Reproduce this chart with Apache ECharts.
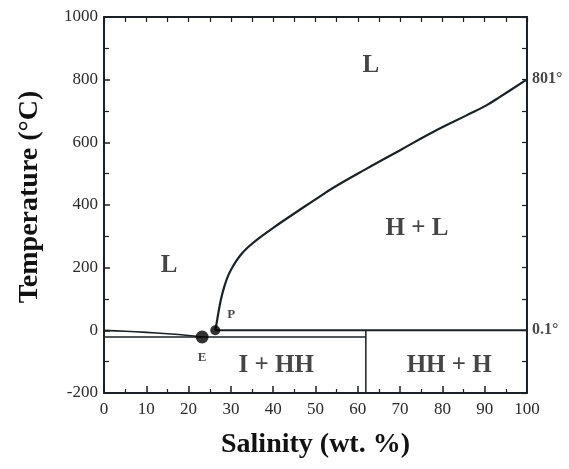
<!DOCTYPE html>
<html>
<head>
<meta charset="utf-8">
<script src="https://cdn.jsdelivr.net/npm/echarts@6/dist/echarts.min.js"></script>
<style>
  html, body { margin: 0; padding: 0; background: #fff; }
  #chart { width: 569px; height: 469px; }
</style>
</head>
<body>
<div id="chart"></div>
<script>
// Halite liquidus, from the peritectic P up to the NaCl melting point
const liquidusSalinity = [26.3, 26.6, 27.0, 27.6, 28.4, 29.4, 30.6, 32.2, 34.1, 36.5, 40.0, 44.0, 50.0, 54.2, 62.1, 70.0, 77.8, 85.7, 90.4, 93.6, 100];
const liquidusTemp = [0.1, 21, 53, 96, 138, 176, 207, 239, 266, 293, 327, 364, 418, 455, 516, 575, 633, 686, 718, 745, 801];

// Ice liquidus, from pure water to the eutectic E
const iceSalinity = [0, 5, 10, 15, 20, 23.2];
const iceTemp = [0, -3, -6.6, -11, -16.5, -21.2];

// Invariant points
const pointNames = ["E", "P"];
const pointSalinity = [23.2, 26.3];
const pointTemp = [-21.2, 0.1];

const eutecticTemp = -21.2;
const peritecticTemp = 0.1;
const hydrateSalinity = 61.9;
const meltTemp = 801;

// Phase field labels
const fieldNames = ["L", "L", "H + L", "I + HH", "HH + H"];
const fieldSalinity = [15.4, 63.1, 74, 40.7, 81.6];
const fieldTemp = [207, 846, 326, -112, -112];

const xTicks = [0, 10, 20, 30, 40, 50, 60, 70, 80, 90, 100];
const yTicks = [-200, 0, 200, 400, 600, 800, 1000];

const ink = "#1b2124";
const serif = "Liberation Serif";

const chart = echarts.init(document.getElementById("chart"));

const zip = (xs, ys) => xs.map((x, i) => [x, ys[i]]);

const lineStyle = (w) => ({ color: ink, width: w });

const frameLine = { show: true, onZero: false, lineStyle: { color: ink, width: 2 } };

const option = {
  animation: false,
  grid: { left: 104, right: 42, top: 17, bottom: 76 },
  xAxis: [
    {
      type: "value",
      position: "bottom",
      min: xTicks[0],
      max: xTicks[xTicks.length - 1],
      interval: 10,
      name: "Salinity (wt. %)",
      nameLocation: "middle",
      nameGap: 38,
      nameTextStyle: { fontFamily: serif, fontWeight: "bold", fontSize: 28, color: "#111" },
      axisLine: frameLine,
      axisTick: { show: true, inside: true, length: 7, lineStyle: { color: ink, width: 1.5 } },
      minorTick: { show: true, splitNumber: 2, length: 4, lineStyle: { color: ink, width: 1.2 } },
      axisLabel: { fontFamily: serif, fontSize: 17, color: "#2a2a2a", margin: 8, formatter: (v) => String(v) },
      splitLine: { show: false }
    },
    {
      type: "value",
      position: "top",
      min: 0,
      max: 100,
      interval: 5,
      axisLine: frameLine,
      axisTick: { show: true, inside: true, length: 5, lineStyle: { color: ink, width: 1.2 } },
      axisLabel: { show: false },
      splitLine: { show: false }
    }
  ],
  yAxis: [
    {
      type: "value",
      position: "left",
      min: yTicks[0],
      max: yTicks[yTicks.length - 1],
      interval: 200,
      name: "Temperature (°C)",
      nameLocation: "middle",
      nameRotate: 90,
      nameGap: 60,
      nameTextStyle: { fontFamily: serif, fontWeight: "bold", fontSize: 28, color: "#111", padding: [0, 0, 0, 16] },
      axisLine: frameLine,
      axisTick: { show: true, inside: true, length: 6, lineStyle: { color: ink, width: 1.5 } },
      minorTick: { show: true, splitNumber: 2, length: 5, lineStyle: { color: ink, width: 1.2 } },
      axisLabel: { fontFamily: serif, fontSize: 17, color: "#2a2a2a", margin: 6, formatter: (v) => String(v) },
      splitLine: { show: false }
    },
    {
      type: "value",
      position: "right",
      min: -200,
      max: 1000,
      interval: 100,
      axisLine: frameLine,
      axisTick: { show: true, inside: true, length: 5, lineStyle: { color: ink, width: 1.2 } },
      axisLabel: { show: false },
      splitLine: { show: false }
    }
  ],
  series: [
    {
      name: "liquidus",
      type: "line",
      smooth: 0.4,
      symbol: "none",
      data: zip(liquidusSalinity, liquidusTemp),
      lineStyle: lineStyle(2.2),
      z: 3
    },
    {
      name: "ice",
      type: "line",
      smooth: 0.3,
      symbol: "none",
      data: zip(iceSalinity, iceTemp),
      lineStyle: lineStyle(1.6)
    },
    {
      name: "eutectic",
      type: "line",
      symbol: "none",
      data: [[0, eutecticTemp], [hydrateSalinity, eutecticTemp]],
      lineStyle: lineStyle(1.6)
    },
    {
      name: "peritectic",
      type: "line",
      symbol: "none",
      data: [[pointSalinity[1], peritecticTemp], [100, peritecticTemp]],
      lineStyle: lineStyle(2)
    },
    {
      name: "hydrate",
      type: "line",
      symbol: "none",
      data: [[hydrateSalinity, peritecticTemp], [hydrateSalinity, -200]],
      lineStyle: lineStyle(1.5)
    },
    {
      name: "points",
      type: "scatter",
      data: pointNames.map((n, i) => ({
        name: n,
        value: [pointSalinity[i], pointTemp[i]],
        symbolSize: i === 0 ? 13 : 10,
        label: i === 0
          ? { position: "bottom", distance: 8 }
          : { position: "insideLeft", offset: [12, -16] }
      })),
      itemStyle: { color: "#000" },
      label: {
        show: true,
        formatter: "{b}",
        fontFamily: serif,
        fontWeight: "bold",
        fontSize: 13,
        color: "#1a1a1a"
      },
      z: 5
    },
    {
      name: "ends",
      type: "scatter",
      symbolSize: 0,
      data: [
        { value: [100, meltTemp], name: meltTemp + "°" },
        { value: [100, peritecticTemp], name: peritecticTemp + "°" }
      ],
      label: {
        show: true,
        position: "right",
        distance: 5,
        formatter: "{b}",
        fontFamily: serif,
        fontWeight: "bold",
        fontSize: 16,
        color: "#1a1a1a"
      }
    },
    {
      name: "fields",
      type: "scatter",
      symbolSize: 0,
      data: fieldNames.map((n, i) => ({ name: n, value: [fieldSalinity[i], fieldTemp[i]] })),
      label: {
        show: true,
        position: "inside",
        formatter: "{b}",
        fontFamily: serif,
        fontWeight: "bold",
        fontSize: 25,
        color: "#161616"
      }
    }
  ]
};

chart.setOption(option);
</script>
</body>
</html>
